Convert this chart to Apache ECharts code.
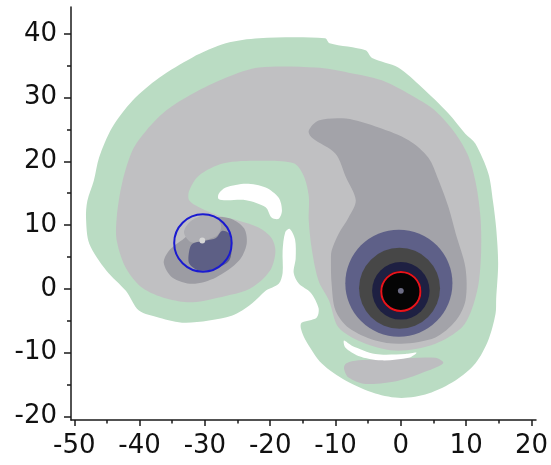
<!DOCTYPE html>
<html>
<head>
<meta charset="utf-8">
<script src="https://cdn.jsdelivr.net/npm/echarts@6/dist/echarts.min.js"></script>
<style>html,body{margin:0;padding:0;background:#fff}#c{width:551px;height:465px}</style>
</head>
<body>
<div id="c"></div>
<script>
// Axis ticks / labels
const xTicks = [-50, -40, -30, -20, -10, 0, 10, 20];
const xMinorTicks = [-45, -35, -25, -15, -5, 5, 15];
const yTicks = [-20, -10, 0, 10, 20, 30, 40];
const yMinorTicks = [-15, -5, 5, 15, 25, 35];
const xExtent = [-50.5, 20.7];
const yExtent = [-20.55, 44.2];

// Contour regions (data coordinates)
const greenOuter = [
  [-26.8,38.5],[-21.7,39.3],[-11.6,39.3],[-10.9,38.5],[-5.4,37.4],[-4.4,36.2],[-0.4,34.7],
  [3.2,31.6],[7.3,27.5],[9.9,24.3],[11.4,22.8],[13.4,18.1],[14.1,13.8],[14.6,9.5],[14.9,4.0],
  [14.6,-1.5],[14.5,-3.9],[13.4,-8.0],[11.4,-11.7],[8.3,-14.4],[4.2,-16.4],[0.1,-17.1],
  [-3.9,-16.4],[-8.4,-14.4],[-12.1,-11.7],[-14.6,-8.0],[-15.3,-6.2],[-15.2,-5.3],[-12.9,-4.5],
  [-12.6,-3.0],[-13.8,-0.6],[-15.6,0.8],[-16.4,2.5],[-16.1,4.8],[-16.2,7.8],[-17.0,9.4],
  [-17.7,8.9],[-18.1,6.0],[-18.1,2.5],[-18.7,0.8],[-20.7,-0.3],[-22.8,-2.3],[-25.9,-4.2],
  [-32.9,-5.3],[-37.0,-4.5],[-40.1,-3.4],[-42.1,-0.3],[-45.1,2.9],[-47.7,7.1],[-48.2,11.1],
  [-48.0,13.8],[-47.0,17.0],[-46.2,20.6],[-44.2,25.3],[-41.1,29.5],[-37.0,33.1],[-31.9,36.3]
];
const grayLight = [
  [-41.1,21.7],[-39.0,24.8],[-35.9,28.0],[-31.9,30.6],[-26.8,33.1],[-21.7,34.7],[-13.0,34.7],
  [-8.0,33.9],[-2.9,32.7],[2.2,30.0],[5.3,27.9],[8.4,24.3],[10.3,20.9],[11.5,16.5],[12.2,11.2],
  [12.3,6.0],[11.9,0.8],[10.8,-3.4],[9.3,-6.1],[5.3,-8.6],[-0.4,-9.7],[-5.4,-8.6],[-9.5,-6.1],
  [-11.0,-1.8],[-12.6,1.3],[-13.6,6.0],[-14.1,10.7],[-14.1,14.6],[-14.9,17.8],[-16.4,19.7],
  [-21.7,20.1],[-27.1,19.7],[-30.9,17.8],[-32.4,15.4],[-32.4,13.9],[-30.9,12.8],[-27.9,11.5],
  [-24.8,10.7],[-21.7,9.6],[-19.8,8.0],[-19.2,6.0],[-19.8,3.3],[-21.4,1.3],[-23.8,-0.3],
  [-26.8,-1.1],[-31.9,-2.1],[-35.9,-1.5],[-39.6,0.2],[-42.1,3.3],[-43.5,7.6],[-43.5,11.2],
  [-42.7,16.5]
];
const grayMedium = [
  [-14.1,24.8],[-12.6,26.4],[-8.4,26.7],[-3.4,25.3],[1.2,23.3],[4.2,20.6],[5.8,17.0],[7.3,12.8],
  [8.4,8.7],[9.9,3.3],[9.9,-1.8],[8.4,-5.0],[5.3,-7.6],[0.1,-8.6],[-3.9,-8.1],[-8.0,-6.1],
  [-10.0,-3.4],[-10.6,0.8],[-10.7,4.4],[-10.6,6.0],[-9.5,8.7],[-8.0,11.2],[-6.9,13.9],
  [-8.4,17.5],[-10.0,21.2],[-13.6,23.7]
];
const grayBand = [
  [-8.4,-11.7],[-6.5,-11.2],[-0.4,-10.9],[5.3,-10.8],[6.5,-11.6],[4.2,-12.8],[-0.4,-14.4],
  [-5.4,-14.9],[-8.0,-13.9],[-8.7,-12.5]
];
const whiteTop = [
  [-27.9,14.9],[-26.8,15.9],[-23.7,16.5],[-20.7,15.9],[-18.7,14.3],[-18.2,12.3],[-18.7,11.0],
  [-19.8,11.2],[-20.7,12.8],[-23.7,13.9],[-26.8,13.9],[-27.9,14.1]
];
const whiteBottom = [
  [-8.7,-8.1],[-7.5,-8.9],[-3.9,-10.2],[0.7,-10.2],[2.4,-10.0],[1.2,-10.8],[-3.0,-11.2],
  [-6.5,-10.5],[-8.5,-9.2]
];
const smallOuter = [
  [-36.3,4.1],[-35.0,1.8],[-31.9,0.8],[-28.3,1.8],[-24.8,4.4],[-23.6,7.1],[-24.0,9.5],
  [-26.0,11.0],[-28.6,11.2],[-30.9,9.9],[-33.2,7.9],[-35.5,6.0]
];
const smallNotch = [
  [-33.2,8.8],[-32.4,10.4],[-30.4,11.5],[-28.6,11.5],[-27.5,9.9],[-28.1,8.4],[-30.1,7.6],[-32.1,7.3]
];
const smallCore = [
  [-32.4,6.0],[-31.9,7.1],[-29.8,7.6],[-28.3,8.0],[-27.4,9.1],[-26.3,8.7],[-25.9,6.5],
  [-26.3,4.4],[-28.3,3.2],[-30.9,2.9],[-32.4,4.0]
];
const smallDot = [[-30.4, 7.6, 0.45]];
// Main vortex rings: [cx, cy, r]
const mainRings = [
  [-0.3, 0.9, 8.2],
  [-0.2, 0.1, 6.2],
  [0.0, -0.3, 4.4],
  [0.0, -0.4, 3.15],
  [0.0, -0.3, 0.45]
];
const ringColors = ['#5e6088', '#474747', '#1e2042', '#050505', '#6c6c84'];
const redCircle = [[0.0, -0.4, 3.0]];
const blueCircle = [[-30.3, 7.2, 4.4]];

function polySeries(points, color, z) {
  return {
    type: 'custom', silent: true, z: z, animation: false,
    data: points, encode: {x: 0, y: 1},
    renderItem: function (params, api) {
      if (params.dataIndex !== 0) return null;
      const pts = points.map(p => api.coord(p));
      return {type: 'polygon', shape: {points: pts, smooth: 0.3}, style: {fill: color}};
    }
  };
}
function circleSeries(list, fill, stroke, lw, z) {
  return {
    type: 'custom', silent: true, z: z, animation: false,
    data: list, encode: {x: 0, y: 1},
    renderItem: function (params, api) {
      const c = api.coord([api.value(0), api.value(1)]);
      const r = api.size([api.value(2), 0])[0];
      return {type: 'circle', shape: {cx: c[0], cy: c[1], r: r},
        style: {fill: fill || (ringColors[params.dataIndex]), stroke: stroke, lineWidth: lw}};
    }
  };
}

const axisColor = '#1a1a1a';
const labelFont = {fontFamily: 'DejaVu Sans', fontSize: 26, color: '#111'};
const chart = echarts.init(document.getElementById('c'), null, {renderer: 'canvas'});
chart.setOption({
  animation: false,
  grid: {left: 71, right: 13, top: 7, bottom: 45},
  xAxis: [
    {type: 'value', min: xExtent[0], max: xExtent[1], splitLine: {show: false},
      axisLine: {show: true, onZero: false, lineStyle: {color: axisColor, width: 1.5}},
      axisTick: {show: true, length: 6, customValues: xTicks, lineStyle: {color: axisColor, width: 1.5}},
      axisLabel: Object.assign({customValues: xTicks, margin: 13}, labelFont)},
    {type: 'value', min: xExtent[0], max: xExtent[1], position: 'bottom', splitLine: {show: false},
      axisLine: {show: false, onZero: false},
      axisTick: {show: true, length: 3.5, customValues: xMinorTicks, lineStyle: {color: axisColor, width: 1.5}},
      axisLabel: {show: false}}
  ],
  yAxis: [
    {type: 'value', min: yExtent[0], max: yExtent[1], splitLine: {show: false},
      axisLine: {show: true, onZero: false, lineStyle: {color: axisColor, width: 1.5}},
      axisTick: {show: true, length: 7, customValues: yTicks, lineStyle: {color: axisColor, width: 1.5}},
      axisLabel: Object.assign({customValues: yTicks, margin: 14}, labelFont)},
    {type: 'value', min: yExtent[0], max: yExtent[1], position: 'left', splitLine: {show: false},
      axisLine: {show: false, onZero: false},
      axisTick: {show: true, length: 4, customValues: yMinorTicks, lineStyle: {color: axisColor, width: 1.5}},
      axisLabel: {show: false}}
  ],
  series: [
    polySeries(greenOuter, '#badcc3', 1),
    polySeries(grayLight, '#c0c0c2', 2),
    polySeries(grayBand, '#bdbdc0', 2),
    polySeries(whiteTop, '#ffffff', 3),
    polySeries(whiteBottom, '#ffffff', 3),
    polySeries(grayMedium, '#a3a3a9', 4),
    polySeries(smallOuter, '#9c9ca3', 4),
    polySeries(smallNotch, '#aeaeb3', 5),
    polySeries(smallCore, '#5d5f85', 6),
    circleSeries(smallDot, '#d6d6d6', null, 0, 7),
    circleSeries(mainRings, null, null, 0, 6),
    circleSeries(redCircle, 'rgba(0,0,0,0)', '#e8141c', 2, 9),
    circleSeries(blueCircle, 'rgba(0,0,0,0)', '#1a1ad0', 2, 9)
  ]
});
</script>
</body>
</html>
